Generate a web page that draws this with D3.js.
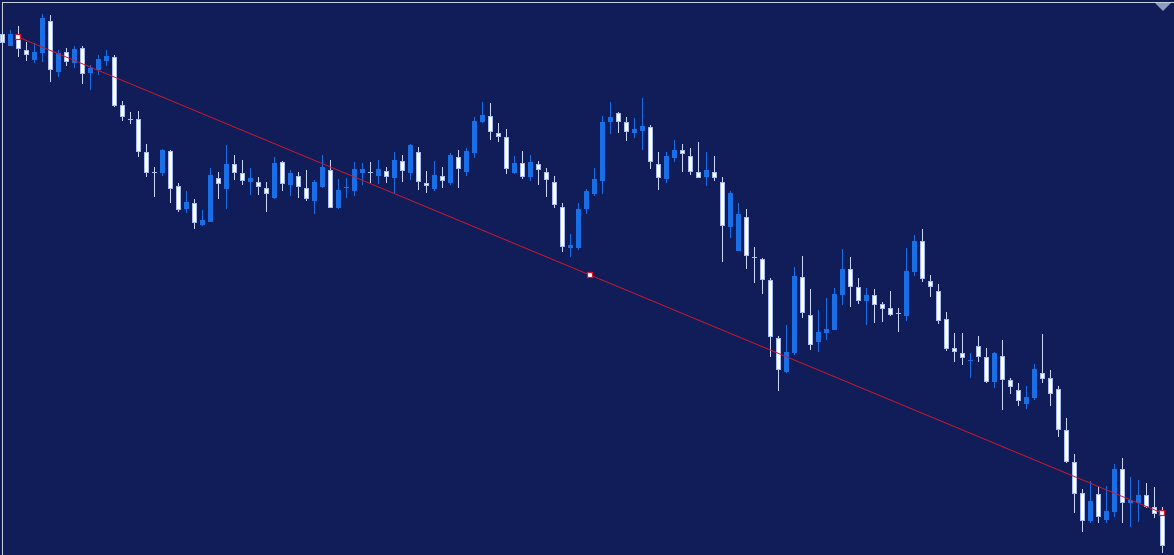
<!DOCTYPE html>
<html>
<head>
<meta charset="utf-8">
<script src="https://cdn.jsdelivr.net/npm/d3@7/dist/d3.min.js"></script>
<style>
  html, body { margin: 0; padding: 0; background: #111d59; overflow: hidden; }
  svg { display: block; }
</style>
</head>
<body>
<svg id="chart"></svg>
<script>
// price series, one value per bar (oldest first)
var openP = [521, 509, 519, 505, 495, 502, 534, 483, 503, 492, 507, 482, 485, 494, 498, 450, 436, 436, 403, 383,
  382, 404, 369, 346, 352, 330, 333, 377, 366, 391, 382, 373, 373, 367, 357, 393, 370, 379, 367, 354,
  368, 385, 347, 367, 364, 382, 383, 379, 384, 377, 394, 382, 403, 372, 366, 379, 372, 398, 383, 402,
  433, 439, 422, 418, 382, 392, 378, 391, 383, 373, 348, 307, 307, 346, 361, 374, 433, 442, 433, 422,
  424, 428, 391, 376, 397, 405, 399, 383, 378, 383, 373, 328, 304, 338, 298, 296, 275, 217, 183, 202,
  278, 240, 213, 222, 225, 260, 286, 268, 254, 260, 251, 247, 242, 239, 283, 314, 274, 264, 236, 207,
  202, 194, 209, 198, 173, 199, 175, 165, 151, 157, 182, 177, 166, 125, 93, 62, 34, 61, 35, 43,
  86, 52, 52, 60, 48, 42]
var highP = [524, 525, 529, 513, 512, 541, 540, 505, 507, 509, 509, 490, 500, 505, 500, 454, 443, 444, 411, 388,
  406, 405, 372, 364, 356, 345, 387, 383, 410, 400, 395, 387, 378, 373, 398, 394, 385, 383, 385, 375,
  400, 395, 376, 377, 393, 392, 393, 395, 388, 403, 400, 411, 408, 384, 394, 388, 402, 405, 407, 438,
  453, 452, 432, 426, 399, 404, 400, 394, 387, 379, 352, 321, 352, 366, 387, 439, 453, 443, 438, 437,
  457, 430, 403, 403, 415, 411, 407, 413, 403, 399, 378, 364, 352, 346, 308, 297, 277, 219, 230, 288,
  299, 266, 245, 257, 267, 306, 298, 277, 267, 266, 253, 264, 247, 307, 320, 326, 280, 271, 243, 222,
  222, 202, 219, 207, 203, 215, 177, 172, 169, 191, 221, 185, 169, 137, 101, 66, 74, 69, 69, 91,
  97, 78, 75, 72, 68, 48]
var lowP = [509, 509, 498, 494, 492, 493, 473, 478, 489, 487, 471, 465, 480, 489, 448, 434, 431, 398, 378, 358,
  379, 352, 343, 342, 326, 329, 333, 356, 346, 375, 370, 360, 360, 343, 356, 364, 359, 357, 354, 341,
  367, 347, 346, 357, 359, 370, 372, 371, 372, 362, 373, 375, 365, 362, 364, 367, 370, 367, 379, 397,
  432, 415, 413, 381, 381, 376, 374, 370, 358, 347, 303, 298, 305, 341, 359, 361, 421, 422, 414, 417,
  405, 386, 365, 372, 393, 383, 380, 377, 369, 374, 293, 317, 304, 286, 272, 261, 198, 164, 182, 200,
  237, 205, 203, 215, 225, 250, 248, 251, 230, 232, 233, 239, 223, 234, 279, 273, 258, 231, 204, 193,
  190, 177, 193, 172, 167, 145, 161, 149, 146, 155, 172, 149, 118, 92, 42, 23, 32, 32, 32, 38,
  32, 28, 33, 47, 37, 2]
var closeP = [512, 521, 506, 500, 503, 537, 485, 502, 493, 506, 481, 487, 496, 499, 449, 438, 435, 403, 382, 382,
  405, 366, 345, 353, 332, 335, 380, 371, 391, 382, 374, 377, 368, 361, 392, 371, 382, 368, 356, 373,
  388, 347, 365, 368, 386, 386, 382, 386, 378, 395, 384, 410, 373, 369, 380, 374, 400, 386, 404, 434,
  440, 423, 418, 386, 392, 378, 393, 385, 375, 350, 308, 310, 346, 364, 376, 433, 438, 433, 423, 426,
  429, 393, 377, 399, 405, 401, 383, 377, 385, 377, 329, 362, 341, 299, 297, 275, 218, 185, 203, 279,
  242, 210, 223, 226, 261, 286, 268, 254, 260, 250, 246, 240, 241, 284, 314, 276, 268, 234, 206, 203,
  197, 195, 198, 173, 202, 175, 168, 154, 158, 186, 176, 161, 125, 93, 61, 34, 54, 38, 44, 86,
  52, 55, 60, 48, 41, 9]

// trend line anchors: [bar index, price]
var trendIdx = [2, 73.5, 145]
var trendPrice = [518, 280, 42]

var width = 1174,
  height = 555

var colors = {
  bg: "#111d59",
  frame: "#c9cfdc",
  up: "#1a6fe6",
  down: "#ffffff",
  downEdge: "#a9bdf2",
  downWick: "#c9d5fb",
  trend: "#d2182b"
}

var bars = openP.map(function (o, i) {
  return { i: i, open: o, high: highP[i], low: lowP[i], close: closeP[i] }
})

var svg = d3.select("#chart")
  .attr("width", width)
  .attr("height", height)

svg.append("rect")
  .attr("width", width)
  .attr("height", height)
  .attr("fill", colors.bg)

var x = d3.scaleLinear()
  .domain([0, bars.length - 1])
  .range([2, 1162])

var y = d3.scaleLinear()
  .domain([0, 555])
  .range([height, 0])

function isUp(d) {
  return d.close > d.open
}

var candles = svg.append("g")
  .attr("class", "candles")
  .selectAll("g.bar")
  .data(bars)
  .enter()
  .append("g")
  .attr("class", "bar")

// wicks
candles.append("line")
  .attr("x1", function (d) { return Math.round(x(d.i)) + 0.5 })
  .attr("x2", function (d) { return Math.round(x(d.i)) + 0.5 })
  .attr("y1", function (d) { return Math.round(y(d.high)) })
  .attr("y2", function (d) { return Math.round(y(d.low)) })
  .attr("stroke", function (d) { return isUp(d) ? colors.up : colors.downWick })
  .attr("stroke-width", 1)

// bodies
candles.append("rect")
  .attr("x", function (d) { return Math.round(x(d.i)) - 1.5 })
  .attr("y", function (d) { return Math.round(y(Math.max(d.open, d.close))) + 0.5 })
  .attr("width", 4)
  .attr("height", function (d) {
    return Math.max(0.01, Math.round(y(Math.min(d.open, d.close))) - Math.round(y(Math.max(d.open, d.close))) - 1)
  })
  .attr("fill", function (d) { return isUp(d) ? colors.up : colors.down })
  .attr("stroke", function (d) { return isUp(d) ? colors.up : colors.downEdge })
  .attr("stroke-width", 1)

// trend line
var trend = trendIdx.map(function (t, k) {
  return { i: t, p: trendPrice[k] }
})

svg.append("path")
  .datum(trend)
  .attr("fill", "none")
  .attr("stroke", colors.trend)
  .attr("stroke-width", 1)
  .attr("d", d3.line()
    .x(function (d) { return x(d.i) })
    .y(function (d) { return y(d.p) }))

svg.selectAll("rect.anchor")
  .data(trend)
  .enter()
  .append("rect")
  .attr("class", "anchor")
  .attr("x", function (d) { return Math.round(x(d.i)) - 2.5 })
  .attr("y", function (d) { return Math.round(y(d.p)) - 2.5 })
  .attr("width", 5)
  .attr("height", 5)
  .attr("fill", "#ffffff")
  .attr("stroke", colors.trend)
  .attr("stroke-width", 1.2)

// window frame and the small dropdown triangle
svg.append("line")
  .attr("x1", 2).attr("x2", width)
  .attr("y1", 2.5).attr("y2", 2.5)
  .attr("stroke", colors.frame)
svg.append("line")
  .attr("x1", 2.5).attr("x2", 2.5)
  .attr("y1", 2).attr("y2", height)
  .attr("stroke", colors.frame)

svg.append("path")
  .attr("d", "M1155,3 L1171,3 L1163,11 Z")
  .attr("fill", "#8e9cbe")
</script>
</body>
</html>
